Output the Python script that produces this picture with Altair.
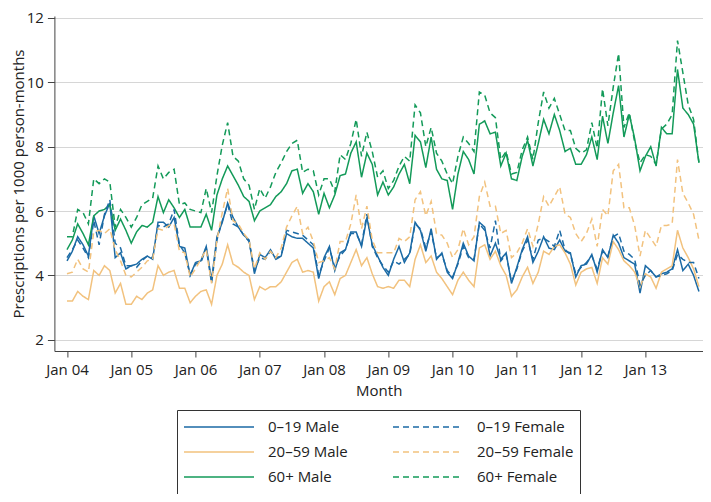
import altair as alt
import pandas as pd

series_names = ["0–19 Male", "20–59 Male", "60+ Male", "0–19 Female", "20–59 Female", "60+ Female"]
tick_labels = ["Jan 04", "Jan 05", "Jan 06", "Jan 07", "Jan 08", "Jan 09", "Jan 10", "Jan 11", "Jan 12", "Jan 13"]
tick_months = [0, 12, 24, 36, 48, 60, 72, 84, 96, 108]
y_ticks = [2, 4, 6, 8, 10, 12]

m_0_19 = [4.45, 4.75, 5.2, 4.95, 4.6, 5.85, 5.3, 5.85, 6.25, 4.55, 4.7, 4.2,
          4.3, 4.35, 4.5, 4.6, 4.5, 5.65, 5.65, 5.5, 5.8, 4.9, 4.85, 4.0,
          4.4, 4.45, 4.9, 3.85, 5.2, 5.65, 6.25, 5.8, 5.5, 5.25, 5.1, 4.05,
          4.65, 4.55, 4.8, 4.5, 4.6, 5.3, 5.2, 5.15, 5.15, 5.0, 4.85, 3.9,
          4.55, 4.9, 4.15, 4.7, 4.8, 5.35, 5.35, 4.9, 5.8, 4.95, 4.6, 4.25,
          4.0, 4.5, 4.9, 4.4, 4.7, 5.65, 5.4, 4.75, 5.45, 4.5, 4.7, 4.1,
          3.9, 4.4, 5.0, 4.6, 4.45, 5.65, 5.5, 4.6, 5.0, 4.5, 4.7, 3.75,
          4.25, 4.8, 5.2, 4.4, 4.75, 5.2, 4.85, 4.8, 5.1, 4.75, 4.7, 3.95,
          4.3, 4.35, 4.65, 4.1, 4.8, 4.55, 5.25, 5.0, 4.55, 4.45, 4.35, 3.45,
          4.3, 4.15, 3.95, 4.05, 4.1, 4.2, 4.8, 4.15, 4.35, 4.0, 3.5]
f_0_19 = [4.55, 4.8, 5.1, 4.85, 4.55, 5.7, 4.95, 5.9, 6.35, 5.0, 4.85, 4.3,
          4.3, 4.25, 4.45, 4.6, 4.55, 5.55, 5.5, 5.6, 6.05, 4.95, 4.7, 4.0,
          4.35, 4.4, 4.85, 3.75, 5.1, 5.7, 6.2, 5.6, 5.5, 5.25, 5.05, 4.15,
          4.55, 4.5, 4.75, 4.55, 4.6, 5.4, 5.35, 5.3, 5.25, 5.1, 4.95, 4.0,
          4.45, 4.85, 4.25, 4.6, 4.8, 5.3, 5.3, 4.95, 5.9, 4.9, 4.55, 4.3,
          4.1, 4.45, 4.35, 4.5, 4.65, 5.6, 5.45, 4.85, 5.35, 4.55, 4.65, 4.15,
          3.95, 4.35, 4.9, 4.55, 4.5, 5.6, 5.4, 4.85, 5.7, 4.45, 4.65, 3.8,
          4.2, 4.75, 5.1, 4.5, 5.1, 5.15, 5.05, 4.9, 5.4, 4.8, 4.65, 4.05,
          4.25, 4.4, 4.6, 4.2, 4.75, 4.6, 5.2, 5.3, 4.75, 4.65, 4.5, 3.7,
          4.0, 4.15, 3.95, 4.0, 4.05, 4.15, 4.65, 4.5, 4.4, 4.4, 3.9]
m_20_59 = [3.2, 3.2, 3.5, 3.35, 3.25, 4.15, 4.0, 4.3, 4.15, 3.45, 3.75, 3.1,
           3.1, 3.35, 3.25, 3.45, 3.55, 4.3, 4.0, 4.1, 4.15, 3.6, 3.6, 3.15,
           3.35, 3.5, 3.55, 3.1, 4.0, 4.35, 4.95, 4.35, 4.25, 4.1, 4.0, 3.25,
           3.65, 3.55, 3.65, 3.65, 3.8, 4.1, 4.4, 4.5, 4.1, 4.15, 4.1, 3.2,
           3.65, 3.8, 3.4, 3.9, 4.0, 4.4, 4.8, 4.3, 4.55, 4.05, 3.65, 3.6,
           3.65, 3.6, 3.85, 3.85, 3.65, 4.5, 4.95, 4.4, 4.6, 4.1, 3.9, 3.65,
           3.4, 3.85, 4.1, 3.85, 3.65, 4.85, 4.95, 4.5, 4.75, 4.3, 4.0, 3.35,
           3.55, 3.95, 4.25, 3.75, 4.1, 4.75, 4.65, 4.9, 4.95, 4.7, 4.35, 3.7,
           4.1, 4.2, 4.25, 3.75, 4.55, 4.35, 5.05, 4.8, 4.45, 4.3, 4.1, 3.65,
           4.05, 3.95, 3.6, 4.1, 4.2, 4.3, 5.4, 4.85, 4.55, 4.2, 3.65]
f_20_59 = [4.05, 4.1, 4.5, 4.2, 4.1, 5.35, 5.4, 5.3, 5.45, 4.8, 4.45, 4.0,
           3.95, 4.1, 4.25, 4.45, 4.5, 5.45, 5.4, 5.55, 5.6, 4.75, 4.7, 3.95,
           4.2, 4.5, 4.8, 3.75, 5.1, 5.95, 6.7, 5.7, 5.6, 5.3, 5.1, 4.2,
           4.7, 4.5, 4.75, 4.55, 4.85, 5.5, 5.85, 6.15, 5.3, 5.5, 5.05, 4.4,
           4.45, 4.55, 4.2, 5.05, 5.05, 5.6, 6.5, 5.45, 6.15, 5.1, 4.7, 4.7,
           4.7, 4.7, 5.15, 5.05, 5.2, 6.35, 6.6, 5.85, 6.3, 5.3, 5.25, 5.0,
           4.55, 4.8, 5.45, 4.95, 5.2, 6.45, 6.9, 6.15, 6.15, 5.3, 5.4, 4.55,
           4.7, 5.0, 5.45, 4.9, 5.6, 6.45, 6.15, 6.45, 6.75, 5.9, 5.8, 5.3,
           5.05, 5.3, 5.75, 4.9, 6.05, 5.85, 7.25, 7.45, 6.1, 6.1, 5.55, 4.6,
           5.4, 5.15, 4.9, 5.55, 5.55, 5.6, 7.6, 6.55, 6.25, 5.9, 5.1]
m_60 = [4.8, 5.1, 5.6, 5.3, 4.95, 5.85, 6.0, 6.05, 6.2, 5.4, 5.75, 5.4,
        5.0, 5.35, 5.55, 5.5, 5.65, 6.45, 5.95, 6.35, 6.1, 5.8, 6.05, 5.5,
        5.5, 5.5, 5.9, 5.4, 6.5, 7.0, 7.4, 7.1, 6.8, 6.45, 6.3, 5.7,
        6.0, 6.1, 6.2, 6.45, 6.6, 6.85, 7.25, 7.3, 6.55, 6.85, 6.6, 5.9,
        6.55, 6.1, 6.5, 7.1, 7.15, 7.8, 8.15, 7.05, 7.8, 7.45, 6.5, 6.9,
        6.5, 6.75, 7.15, 7.45, 6.85, 8.35, 8.15, 7.35, 8.3, 7.3, 7.0, 6.95,
        6.05, 7.15, 7.85, 7.6, 7.15, 8.7, 8.8, 8.4, 8.45, 7.4, 7.8, 7.0,
        6.95, 7.7, 8.2, 7.4, 8.1, 8.85, 8.4, 9.0, 8.5, 7.85, 7.95, 7.45,
        7.45, 7.75, 8.3, 7.6, 8.95, 8.1, 9.05, 9.9, 8.3, 9.0, 8.25, 7.25,
        7.7, 8.0, 7.4, 8.6, 8.4, 8.4, 10.4, 9.2, 9.0, 8.7, 7.5]
f_60 = [5.2, 5.2, 6.05, 5.95, 5.6, 7.0, 6.85, 7.0, 6.9, 5.5, 6.05, 5.8,
        5.5, 5.8, 6.2, 6.3, 6.4, 7.4, 7.0, 7.2, 7.3, 6.2, 6.25, 6.05,
        6.0, 5.95, 6.7, 5.95, 7.1, 8.05, 8.75, 7.7, 7.55, 7.0, 6.8, 6.05,
        6.7, 6.4, 6.75, 7.2, 7.5, 7.85, 8.1, 8.2, 7.2, 7.3, 7.25, 6.5,
        7.0, 7.0, 6.6, 7.75, 7.6, 8.1, 8.85, 7.7, 8.45, 7.85, 7.05, 7.25,
        6.7, 6.95, 7.4, 7.7, 7.55, 9.3, 9.05, 8.0, 8.6, 7.8, 7.55, 7.15,
        6.85, 7.7, 8.3, 8.1, 7.85, 9.7, 9.6, 9.05, 8.9, 7.6, 7.85, 7.15,
        7.2, 7.9, 8.3, 7.6, 8.75, 9.7, 9.2, 9.5, 9.0, 8.5, 8.5, 7.95,
        7.8, 7.9, 8.75, 7.95, 9.8, 8.65, 9.85, 10.9, 8.6, 9.05, 8.15, 7.5,
        7.75, 7.7, 7.45, 8.55, 8.7, 9.0, 11.3, 10.3, 9.3, 8.85, 7.5]

colors = ["#1b6aa5", "#f2c27e", "#139a59", "#1b6aa5", "#f2c27e", "#139a59"]
dashes = [[1, 0], [1, 0], [1, 0], [6, 4], [6, 4], [6, 4]]

rows = []
for name, vals in zip(series_names, [m_0_19, m_20_59, m_60, f_0_19, f_20_59, f_60]):
    for i, v in enumerate(vals):
        rows.append({"month": i, "series": name, "value": v})
df = pd.DataFrame(rows)

label_expr = "[" + ",".join("'" + t + "'" for t in tick_labels) + "][round(datum.value/12)]"

FONT = "Open Sans"
legend = alt.Legend(
    title=None, orient="none", legendX=122.6, legendY=394, columns=2,
    symbolType="stroke", symbolSize=4900, symbolStrokeWidth=1.5,
    clipHeight=22, rowPadding=3, columnPadding=44, labelOffset=13,
    padding=6, strokeColor="#333333", fillColor="white",
    labelFontSize=15, labelFont=FONT, labelColor="#222222", labelLimit=300,
)

chart = alt.Chart(df).mark_line(strokeWidth=1.5).encode(
    x=alt.X("month:Q",
            scale=alt.Scale(domain=[-2.35, 118.76], nice=False, zero=False),
            axis=alt.Axis(values=tick_months, labelExpr=label_expr, title="Month",
                          grid=False, tickSize=6, labelPadding=5, titlePadding=6)),
    y=alt.Y("value:Q",
            scale=alt.Scale(domain=[1.649, 12.062], nice=False, zero=False),
            axis=alt.Axis(values=y_ticks, title="Prescriptions per 1000 person-months",
                          grid=True, tickSize=7, labelPadding=4,
                          titleX=-36, titleBaseline="middle")),
    color=alt.Color("series:N", scale=alt.Scale(domain=series_names, range=colors), legend=legend),
    strokeDash=alt.StrokeDash("series:N", scale=alt.Scale(domain=series_names, range=dashes), legend=legend),
).properties(
    width=648.6, height=335,
    autosize=alt.AutoSizeParams(type="none"),
    padding={"left": 46.4, "top": 8, "right": 0, "bottom": 143},
).configure_view(stroke=None).configure_axis(
    labelFont=FONT, titleFont=FONT, labelFontSize=15, titleFontSize=15,
    titleFontWeight="normal", labelColor="#222222", titleColor="#222222",
    domainColor="#444444", tickColor="#444444", gridColor="#d6d6d6", gridWidth=1,
)

chart.save("out.html", embed_options={"renderer": "svg", "actions": False})
